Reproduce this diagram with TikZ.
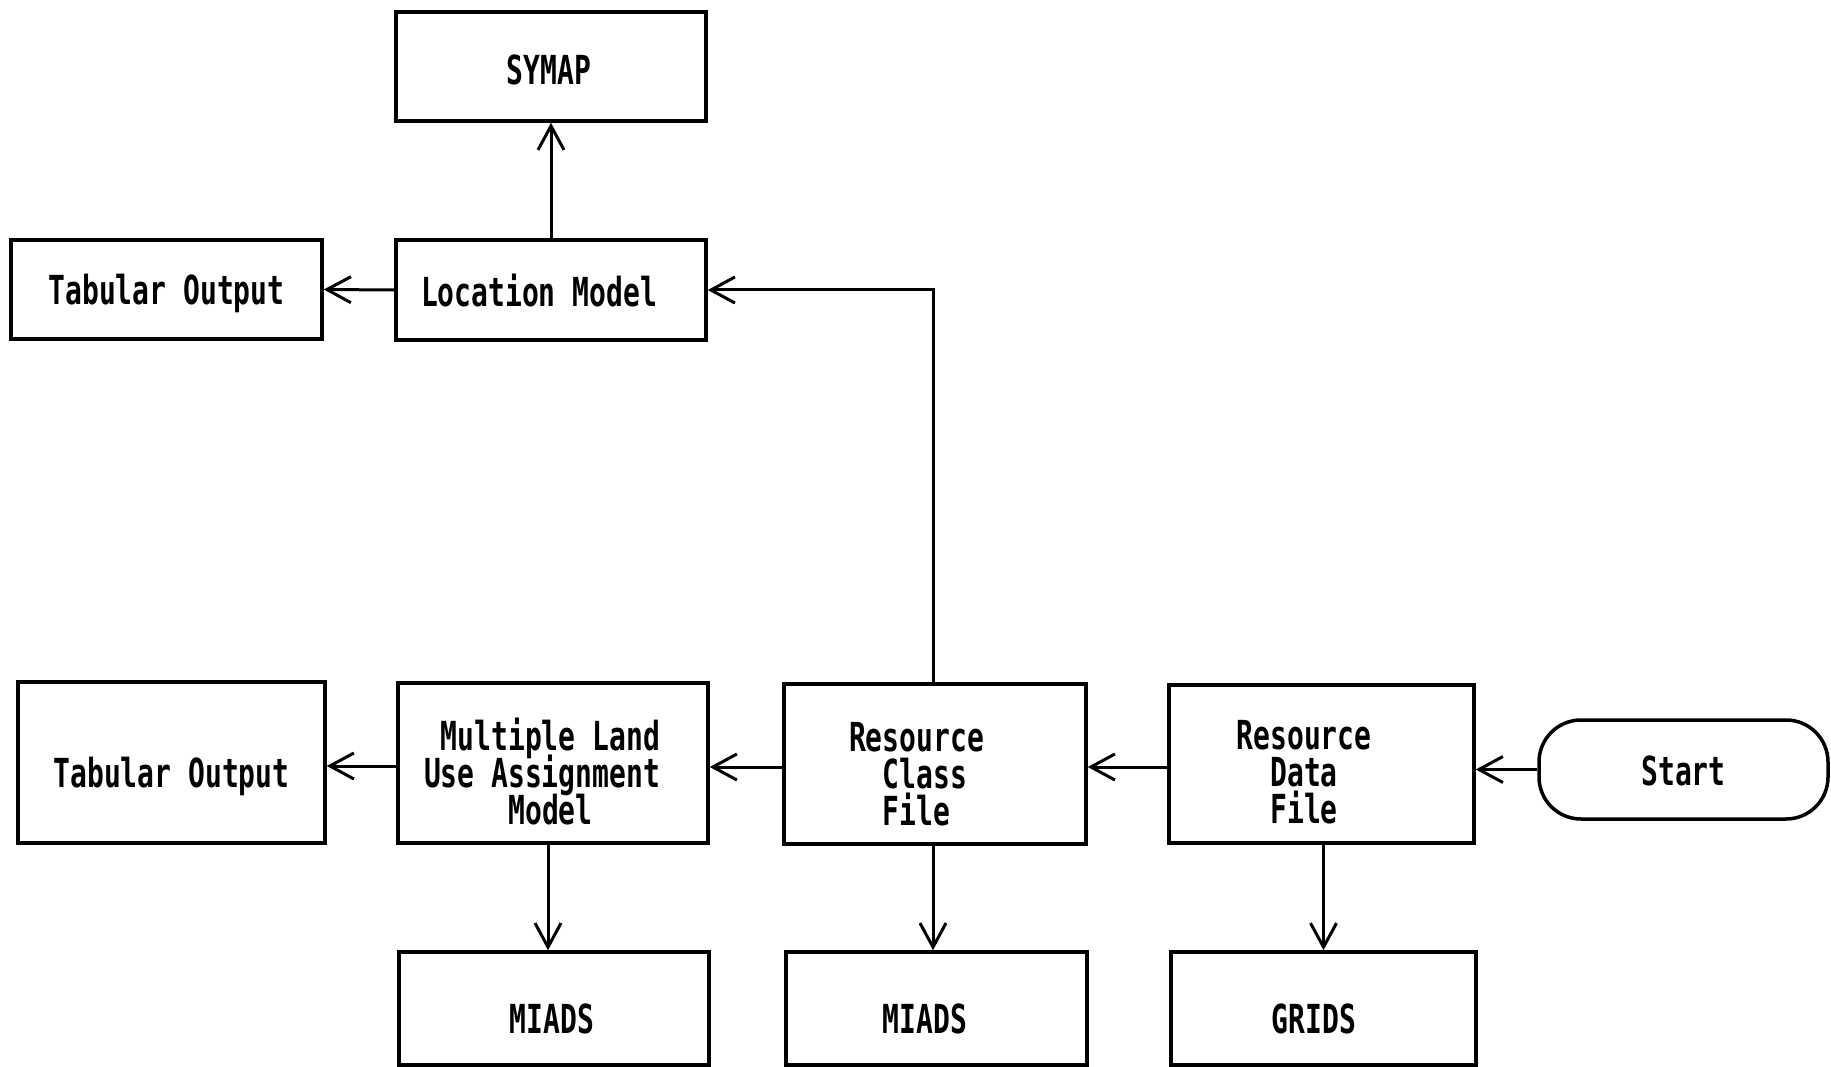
\documentclass[tikz,border=0pt]{standalone}
\usepackage{fontspec}
\newfontfamily\diafont[FakeStretch=0.70]{DejaVu Sans Mono}
\usetikzlibrary{arrows.meta}
% vertical/horizontal placement helpers for text inside boxes
\newcommand\tstr[1]{\vrule width 0pt height \dimexpr 49.6pt+#1pt\relax depth 0pt\relax}
\newcommand\bstr[1]{\vrule width 0pt height 0pt depth \dimexpr 20.4pt-#1pt\relax\relax}
\newcommand\rpad[1]{{\color{white}\vrule width #1pt height 0pt depth 0pt\relax}}
\newcommand\lsp[1]{\hphantom{#1}}
\newcommand\dfont{\diafont\bfseries\fontsize{40pt}{37pt}\selectfont\lineskiplimit=-100pt\relax}
\begin{document}
\begin{tikzpicture}[x=1pt,y=-1pt,
  box/.style={draw, line width=3.5pt, align=left, inner sep=0pt, font=\dfont},
  term/.style={box, rounded corners=42pt},
  arr/.style={line width=3pt, -{Straight Barb[length=24pt,width=26pt,line width=3pt]}}]
\useasboundingbox (0,0) rectangle (1831,1067);
\node[box, minimum width=310pt, minimum height=109pt] (symap) at (551,66.5) {\tstr{3.5}SYMAP\bstr{3.5}\rpad{4}};
\node[box, minimum width=311pt, minimum height=99pt] (tab1) at (166.5,289.5) {\tstr{0}Tabular Output\bstr{0}};
\node[box, minimum width=310pt, minimum height=100pt] (loc) at (551,290) {\tstr{1.5}Location Model\bstr{1.5}\rpad{24}};
\node[box, minimum width=307pt, minimum height=161pt] (tab2) at (171.5,762.5) {\tstr{10}Tabular Output\bstr{10}};
\node[box, minimum width=310pt, minimum height=160pt] (mlu) at (553,763) {\tstr{9.5}\lsp{M}Multiple Land\\Use Assignment\rpad{22}\\\lsp{MMMMM}Model\bstr{9.5}};
\node[box, minimum width=302pt, minimum height=160pt] (rcf) at (935,764) {\tstr{9.5}Resource\rpad{37}\\\lsp{MM}Class\\\lsp{MM}File\bstr{9.5}};
\node[box, minimum width=305pt, minimum height=158pt] (rdf) at (1321.5,764) {\tstr{8}Resource\rpad{35}\\\lsp{MM}Data\\\lsp{MM}File\bstr{8}};
\node[term, minimum width=289pt, minimum height=99pt] (start) at (1683.5,769.5) {\tstr{1}Start\bstr{1}};
\node[box, minimum width=310pt, minimum height=113pt] (miads1) at (554,1008.5) {\tstr{10}MIADS\bstr{10}\rpad{4}};
\node[box, minimum width=301pt, minimum height=113pt] (miads2) at (936.5,1008.5) {\tstr{10}MIADS\bstr{10}\rpad{23}};
\node[box, minimum width=305pt, minimum height=113pt] (grids) at (1323.5,1008.5) {\tstr{10}GRIDS\bstr{10}\rpad{19}};
\draw[arr] (loc.north) -- (symap.south);
\draw[arr] (loc.west) -- (tab1.east);
\draw[arr] ([xshift=-2pt]rcf.north) |- (loc.east);
\draw[arr] ([yshift=-3pt]mlu.west) -- ([yshift=-3pt]mlu.west -| tab2.east);
\draw[arr] ([yshift=-3pt]rcf.west) -- ([yshift=-3pt]rcf.west -| mlu.east);
\draw[arr] ([yshift=-3pt]rdf.west) -- ([yshift=-3pt]rdf.west -| rcf.east);
\draw[arr] (start.west) -- (start.west -| rdf.east);
\draw[arr] ([xshift=-5pt]mlu.south) -- ([xshift=-5pt]mlu.south |- miads1.north);
\draw[arr] ([xshift=-2pt]rcf.south) -- ([xshift=-2pt]rcf.south |- miads2.north);
\draw[arr] ([xshift=2pt]rdf.south) -- ([xshift=2pt]rdf.south |- grids.north);
\end{tikzpicture}
\end{document}
